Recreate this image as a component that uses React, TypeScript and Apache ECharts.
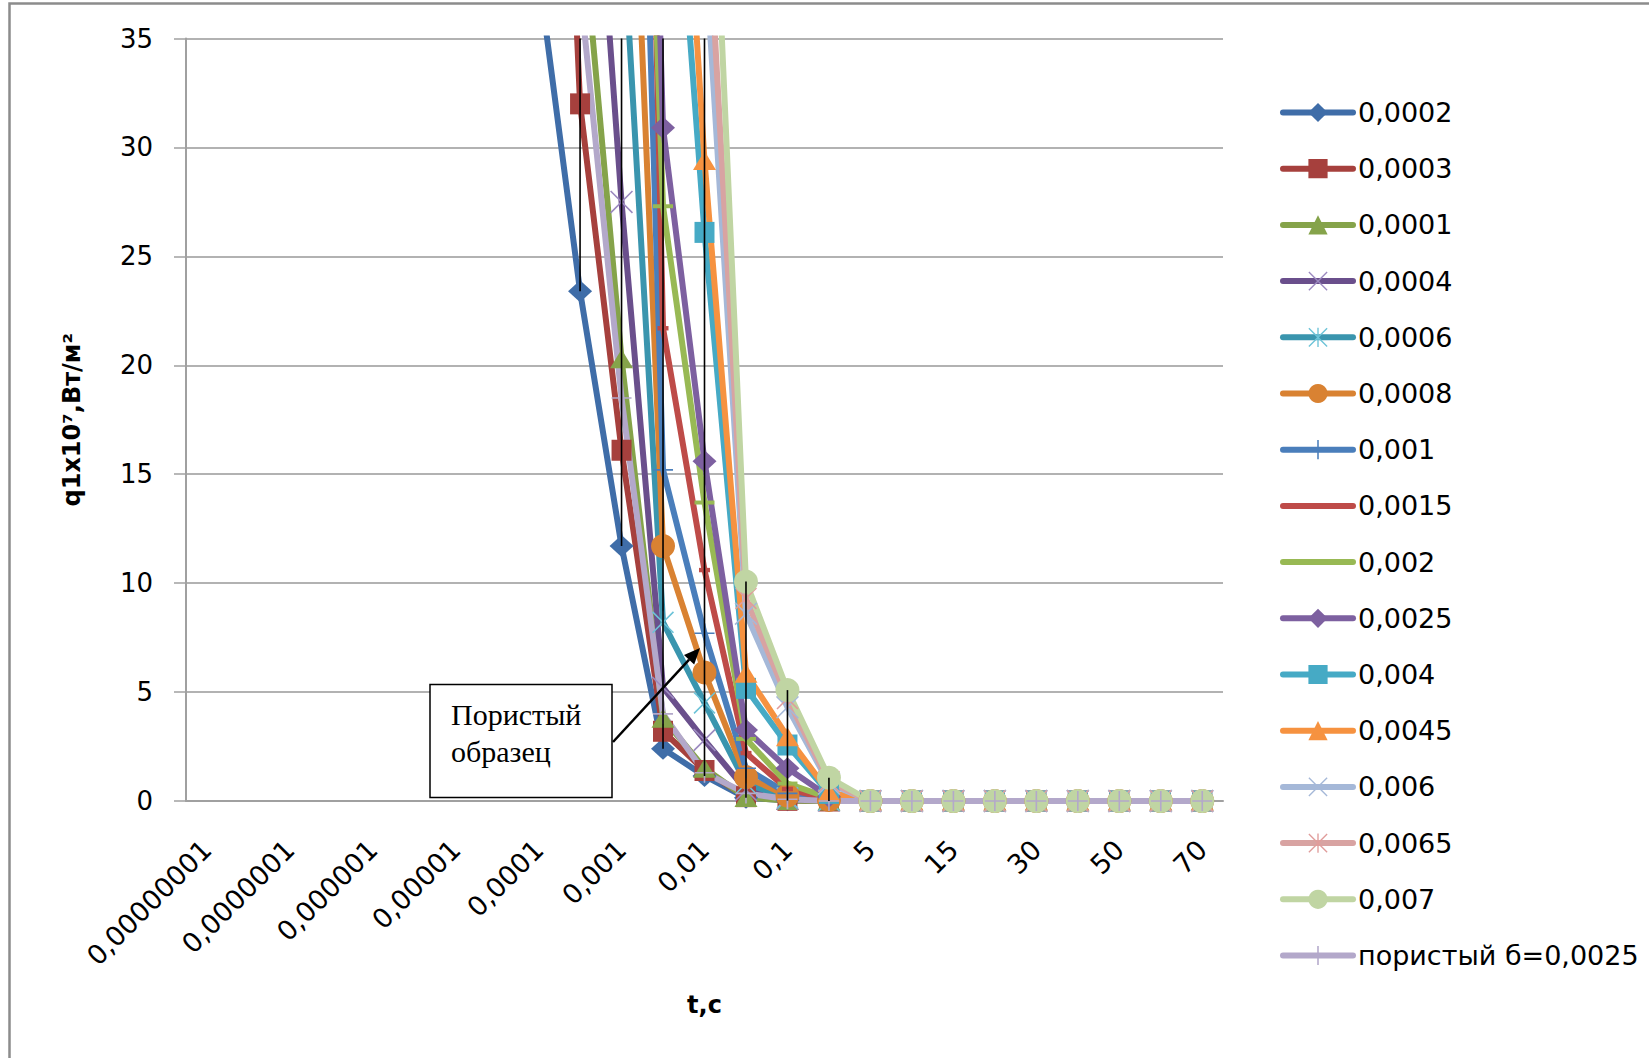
import React, { useEffect, useRef } from "react";
import * as echarts from "echarts";

// ---- data ----
const categories = [
  "0,00000001", "0,00000005", "0,0000001", "0,0000005", "0,000001", "0,000005",
  "0,00001", "0,00005", "0,0001", "0,0005", "0,001", "0,005", "0,01", "0,05",
  "0,1", "1", "5", "10", "15", "20", "30", "40", "50", "60", "70",
];
const yTicks = { min: 0, max: 35, interval: 5 };

const N = null;
const Z9 = [0, 0, 0, 0, 0, 0, 0, 0, 0];
const pre8 = [N, N, N, N, N, N, N, N];

const s0002 = [...pre8, 38, 23.4, 11.7, 2.4, 1.15, 0.15, 0.03, 0, ...Z9];
const s0003 = [...pre8, 75, 32.0, 16.1, 3.2, 1.4, 0.2, 0.03, 0, ...Z9];
const s0001 = [...pre8, N, 41.5, 20.3, 3.8, 1.5, 0.16, 0.02, 0, ...Z9];
const s0004 = [...pre8, N, 54, 27.5, 5.2, 2.8, 0.5, 0.1, 0.02, ...Z9];
const s0006 = [...pre8, N, N, 41.3, 8.2, 4.5, 0.8, 0.15, 0.03, ...Z9];
const s0008 = [...pre8, N, N, 57, 11.7, 5.9, 1.1, 0.25, 0.05, ...Z9];
const s001 = [...pre8, N, N, 79, 15.2, 7.7, 1.5, 0.35, 0.07, ...Z9];
const s0015 = [...pre8, N, N, 105, 21.7, 10.6, 2.2, 0.55, 0.1, ...Z9];
const s002 = [...pre8, N, N, 80, 27.3, 13.7, 2.85, 0.8, 0.15, ...Z9];
const s0025 = [...pre8, N, N, 95, 30.9, 15.6, 3.26, 1.5, 0.2, ...Z9];
const s004 = [...pre8, N, N, N, 51.7, 26.1, 5.17, 2.57, 0.35, ...Z9];
const s0045 = [...pre8, N, N, N, 59.6, 29.4, 5.86, 2.95, 0.4, ...Z9];
const s006 = [...pre8, N, N, N, N, 39.5, 8.6, 4.3, 0.8, ...Z9];
const s0065 = [...pre8, N, N, N, N, 43.8, 9.3, 4.7, 0.9, ...Z9];
const s007 = [...pre8, N, N, N, N, 53, 10.07, 5.09, 1.07, ...Z9];
const sPor = [...pre8, N, 37.3, 18.5, 4.0, 1.3, 0.35, 0.08, 0, ...Z9];

const seriesNames = [
  "0,0002", "0,0003", "0,0001", "0,0004", "0,0006", "0,0008", "0,001", "0,0015",
  "0,002", "0,0025", "0,004", "0,0045", "0,006", "0,0065", "0,007", "пористый б=0,0025",
];
const seriesValues = [
  s0002, s0003, s0001, s0004, s0006, s0008, s001, s0015,
  s002, s0025, s004, s0045, s006, s0065, s007, sPor,
];

// ---- styles ----
const X_PATH = "path://M0,1 L1,0 L20,19 L19,20 Z M19,0 L20,1 L1,20 L0,19 Z";
const STAR_PATH =
  "path://M0,1 L1,0 L20,19 L19,20 Z M19,0 L20,1 L1,20 L0,19 Z M9.3,0 L10.7,0 L10.7,20 L9.3,20 Z";
const PLUS_PATH = "path://M9.2,0 L10.8,0 L10.8,20 L9.2,20 Z M0,9.2 L20,9.2 L20,10.8 L0,10.8 Z";
// short / long horizontal bars, padded to a square bounding box
const DOT_PATH = "path://M0,0 L0,0 M5,8 L15,8 L15,12 L5,12 Z M20,20 L20,20";
const DASH_PATH = "path://M0,0 L0,0 M0,8 L20,8 L20,12 L0,12 Z M20,20 L20,20";

const lineColors = [
  "#3F6DA8", "#A6403D", "#85A34A", "#6A4F8C", "#3A95AE", "#D98232", "#4A7EBB", "#BE4B48",
  "#98B954", "#7D60A0", "#46AAC5", "#F69240", "#A5B8D8", "#D8A3A2", "#C0D5A3", "#B3A8CA",
];
const markerColors = [
  "#3F6DA8", "#A6403D", "#85A34A", "#9C8AC0", "#6CC3D8", "#D98232", "#4A7EBB", "#BE4B48",
  "#98B954", "#7D60A0", "#46AAC5", "#F69240", "#A5B8D8", "#E09C9B", "#C0D5A3", "#B3A8CA",
];
const markers: [string, number | number[]][] = [
  ["diamond", [24, 22]],
  ["rect", [20, 21]],
  ["triangle", [23, 19]],
  [X_PATH, 23],
  [STAR_PATH, 22],
  ["circle", 24],
  [PLUS_PATH, 20],
  [DOT_PATH, 22],
  [DASH_PATH, 20],
  ["diamond", [24, 22]],
  ["rect", [20, 21]],
  ["triangle", [23, 19]],
  [X_PATH, 23],
  [STAR_PATH, 22],
  ["circle", 24],
  [PLUS_PATH, 20],
];

const FONT = "DejaVu Sans";

export default function App() {
  const ref = useRef<HTMLDivElement>(null);

  useEffect(() => {
    document.body.style.margin = "0";
    if (!ref.current) return;
    const chart = echarts.init(ref.current, null, { renderer: "svg" });

    const lineSeries = seriesNames.map((name, k) => ({
      name,
      type: "line",
      data: seriesValues[k],
      symbol: markers[k][0],
      symbolSize: markers[k][1],
      symbolKeepAspect: true,
      showAllSymbol: true,
      connectNulls: false,
      clip: true,
      lineStyle: { color: lineColors[k], width: 6, cap: "round", join: "round" },
      itemStyle: { color: markerColors[k], borderColor: markerColors[k], borderWidth: 0 },
      emphasis: { disabled: true },
      z: 2,
    }));

    const hiLo = categories
      .map((_, i) => {
        const vals = seriesValues.map((s) => s[i]).filter((v) => v !== null) as number[];
        if (!vals.length) return null;
        return [i, Math.min(...vals), Math.max(...vals)];
      })
      .filter((d) => d !== null);

    const option: any = {
      animation: false,
      backgroundColor: "#ffffff",
      grid: { left: 186, right: 426, top: 38.5, bottom: 257, containLabel: false },
      xAxis: {
        type: "category",
        data: categories,
        boundaryGap: true,
        name: "t,c",
        nameLocation: "middle",
        nameGap: 192,
        nameTextStyle: { fontFamily: FONT, fontWeight: "bold", fontSize: 24, color: "#000" },
        axisLine: { show: true, lineStyle: { color: "#A0A0A0", width: 2 } },
        axisTick: { show: false },
        axisLabel: {
          interval: 1,
          rotate: 45,
          margin: 44,
          fontFamily: FONT,
          fontSize: 27,
          color: "#000",
        },
        splitLine: { show: false },
      },
      yAxis: {
        type: "value",
        min: yTicks.min,
        max: yTicks.max,
        interval: yTicks.interval,
        name: "q1x10⁷,Вт/м²",
        nameLocation: "middle",
        nameGap: 102,
        nameTextStyle: { fontFamily: FONT, fontWeight: "bold", fontSize: 24, color: "#000" },
        axisLine: { show: true, lineStyle: { color: "#A0A0A0", width: 2 } },
        axisTick: { show: true, inside: false, length: 12, lineStyle: { color: "#A0A0A0", width: 1.5 } },
        axisLabel: { margin: 33, fontFamily: FONT, fontSize: 26, color: "#000" },
        splitLine: { show: true, lineStyle: { color: "#999999", width: 1.5 } },
      },
      legend: {
        orient: "vertical",
        left: 1280,
        top: 99,
        padding: 0,
        itemWidth: 70,
        itemHeight: 24,
        itemGap: 29.2,
        data: seriesNames,
        selectedMode: false,
        lineStyle: { width: 6 },
        textStyle: { fontFamily: FONT, fontSize: 27, color: "#000", lineHeight: 26 },
      },
      series: [
        ...lineSeries,
        {
          type: "custom",
          name: "hilo",
          data: hiLo,
          encode: { x: 0, y: [1, 2] },
          silent: true,
          z: 5,
          renderItem: (params: any, api: any) => {
            const i = api.value(0);
            const p1 = api.coord([i, api.value(1)]);
            const p2 = api.coord([i, api.value(2)]);
            const cs = params.coordSys;
            const top = cs.y;
            const bottom = cs.y + cs.height;
            const ya = Math.max(top, Math.min(bottom, p1[1]));
            const yb = Math.max(top, Math.min(bottom, p2[1]));
            if (Math.abs(ya - yb) < 0.5) return null;
            return {
              type: "line",
              shape: { x1: p1[0], y1: ya, x2: p1[0], y2: yb },
              style: { stroke: "#000000", lineWidth: 1.6 },
            };
          },
        },
      ],
      graphic: [
        {
          type: "rect",
          shape: { x: 9.5, y: 3.5, width: 1700, height: 1100 },
          style: { fill: "none", stroke: "#8C8C8C", lineWidth: 2.5 },
          silent: true,
          z: 0,
        },
        {
          type: "rect",
          shape: { x: 430, y: 684.5, width: 182, height: 113 },
          style: { fill: "#ffffff", stroke: "#000000", lineWidth: 1.5 },
          z: 10,
        },
        {
          type: "text",
          x: 451,
          y: 696,
          style: {
            text: "Пористый\nобразец",
            fontFamily: "Liberation Serif",
            fontSize: 30,
            lineHeight: 37,
            fill: "#000",
          },
          z: 11,
        },
        {
          type: "line",
          shape: { x1: 613, y1: 742, x2: 689.1, y2: 659.7 },
          style: { stroke: "#000", lineWidth: 2.5 },
          z: 11,
        },
        {
          type: "polygon",
          shape: { points: [[700, 648], [694.2, 664.5], [684, 654.9]] },
          style: { fill: "#000" },
          z: 11,
        },
      ],
    };

    chart.setOption(option);
    return () => chart.dispose();
  }, []);

  return <div ref={ref} style={{ width: 1649, height: 1058 }} />;
}
